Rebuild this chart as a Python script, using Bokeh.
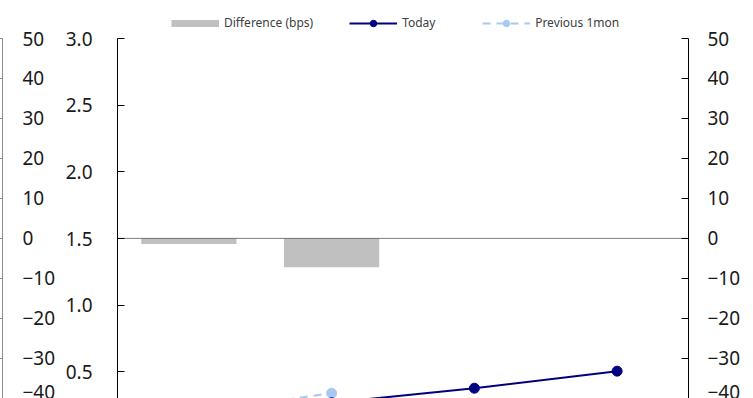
import numpy as np
from bokeh.plotting import figure
from bokeh.models import (Range1d, FactorRange, LinearAxis, FixedTicker, Span,
                          Legend, LegendItem, ColumnDataSource, NumeralTickFormatter)
from bokeh.layouts import row, column
from bokeh.embed import file_html
from bokeh.resources import INLINE

# ---- data -------------------------------------------------------------
categories = ["1", "2", "3", "4"]
today = [0.173, 0.268, 0.377, 0.505]
previous_1mon = [0.187, 0.340, np.nan, np.nan]
difference_bps = [-1.4, -7.2, np.nan, np.nan]

yield_ticks = [0.5, 1.0, 1.5, 2.0, 2.5, 3.0]
bps_ticks = [-40, -30, -20, -10, 0, 10, 20, 30, 40, 50]

FONT = "Noto Sans"
LABEL_SIZE = "19px"
LABEL_COLOR = "#1a1a1a"

BAR_COLOR = "#C0C0C0"
TODAY_COLOR = "#000080"
PREV_COLOR = "#A6CAF0"

source = ColumnDataSource(dict(
    cat=categories,
    today=np.array(today, dtype=float),
    prev=np.array(previous_1mon, dtype=float),
    diff=np.array(difference_bps, dtype=float),
))

common = dict(x_axis_location=None, y_axis_location=None, toolbar_location=None,
              output_backend="svg", outline_line_color=None,
              background_fill_color="white", border_fill_color="white")

# ---- legend strip ---------------------------------------------------------
key = figure(width=753, height=30, x_range=Range1d(0, 1), y_range=Range1d(0, 1),
             min_border_left=0, min_border_right=0, min_border_top=0,
             min_border_bottom=0, **common)
key.grid.visible = False
# swatch renderers: they hold no drawable point, they only feed the legend
nan_xy = dict(x=[np.nan], y=[np.nan])
k_bar = key.line(line_color=BAR_COLOR, line_width=7, **nan_xy)
k_today_l = key.line(line_color=TODAY_COLOR, line_width=2, **nan_xy)
k_today_p = key.scatter(fill_color=TODAY_COLOR, line_color=TODAY_COLOR, **nan_xy)
k_prev_l = key.line(line_color=PREV_COLOR, line_width=2, line_dash="8 6", **nan_xy)
k_prev_p = key.scatter(fill_color=PREV_COLOR, line_color=PREV_COLOR, **nan_xy)
legend = Legend(items=[
    LegendItem(label="Difference (bps)", renderers=[k_bar]),
    LegendItem(label="Today", renderers=[k_today_l, k_today_p]),
    LegendItem(label="Previous 1mon", renderers=[k_prev_l, k_prev_p]),
], orientation="horizontal", location=(171, -1),
    glyph_width=48, glyph_height=16, label_height=16, label_width=44,
    label_standoff=5, spacing=36, padding=0, margin=0,
    background_fill_alpha=0, border_line_alpha=0,
    label_text_font=FONT, label_text_font_size="12px", label_text_color="#404040")
key.add_layout(legend)

# ---- neighbouring panel edge (bps scale) -----------------------------
side = figure(width=58, height=368, x_range=Range1d(0, 1), y_range=Range1d(-40.05, 50),
              min_border_left=0, min_border_right=55,
              min_border_top=8, min_border_bottom=0, **common)
side.grid.visible = False
side_axis = LinearAxis(ticker=FixedTicker(ticks=bps_ticks),
                       major_tick_in=5, major_tick_out=0,
                       minor_tick_line_color=None,
                       axis_line_color="#8c8c8c", major_tick_line_color="#8c8c8c",
                       major_label_standoff=20,
                       major_label_text_font=FONT,
                       major_label_text_font_size=LABEL_SIZE,
                       major_label_text_color=LABEL_COLOR)
side.add_layout(side_axis, "right")

# ---- main panel ---------------------------------------------------------
p = figure(width=695, height=368,
           x_range=FactorRange(*categories), y_range=Range1d(0.3, 3.0),
           min_border_left=59, min_border_right=65,
           min_border_top=8, min_border_bottom=0, **common)
p.grid.visible = False
p.extra_y_ranges = {"bps": Range1d(-40.05, 50)}

yield_axis = LinearAxis(ticker=FixedTicker(ticks=yield_ticks),
                        formatter=NumeralTickFormatter(format="0.0"),
                        major_tick_in=7, major_tick_out=0,
                        minor_tick_line_color=None,
                        axis_line_color="black", major_tick_line_color="black",
                        major_label_standoff=25,
                        major_label_text_font=FONT,
                        major_label_text_font_size=LABEL_SIZE,
                        major_label_text_color=LABEL_COLOR)
p.add_layout(yield_axis, "left")

bps_axis = LinearAxis(y_range_name="bps", ticker=FixedTicker(ticks=bps_ticks),
                      major_tick_in=7, major_tick_out=0,
                      minor_tick_line_color=None,
                      axis_line_color="black", major_tick_line_color="black",
                      major_label_standoff=19,
                      major_label_text_font=FONT,
                      major_label_text_font_size=LABEL_SIZE,
                      major_label_text_color=LABEL_COLOR)
p.add_layout(bps_axis, "right")

# difference bars on the bps scale
p.vbar(x="cat", top="diff", bottom=0, width=0.667, y_range_name="bps",
       fill_color=BAR_COLOR, line_color=None, source=source)

# zero reference line
p.add_layout(Span(location=0, dimension="width", y_range_name="bps",
                  line_color="black", line_width=1, line_dash="1 1"))

# yield curves
p.line(x="cat", y="prev", line_color=PREV_COLOR, line_width=2,
       line_dash="8 6", source=source)
p.scatter(x="cat", y="prev", size=10, fill_color=PREV_COLOR,
          line_color=PREV_COLOR, source=source)
p.line(x="cat", y="today", line_color=TODAY_COLOR, line_width=2, source=source)
p.scatter(x="cat", y="today", size=10, fill_color=TODAY_COLOR,
          line_color=TODAY_COLOR, source=source)

layout = column(key, row(side, p))

with open("out.html", "w") as f:
    f.write(file_html(layout, INLINE))
